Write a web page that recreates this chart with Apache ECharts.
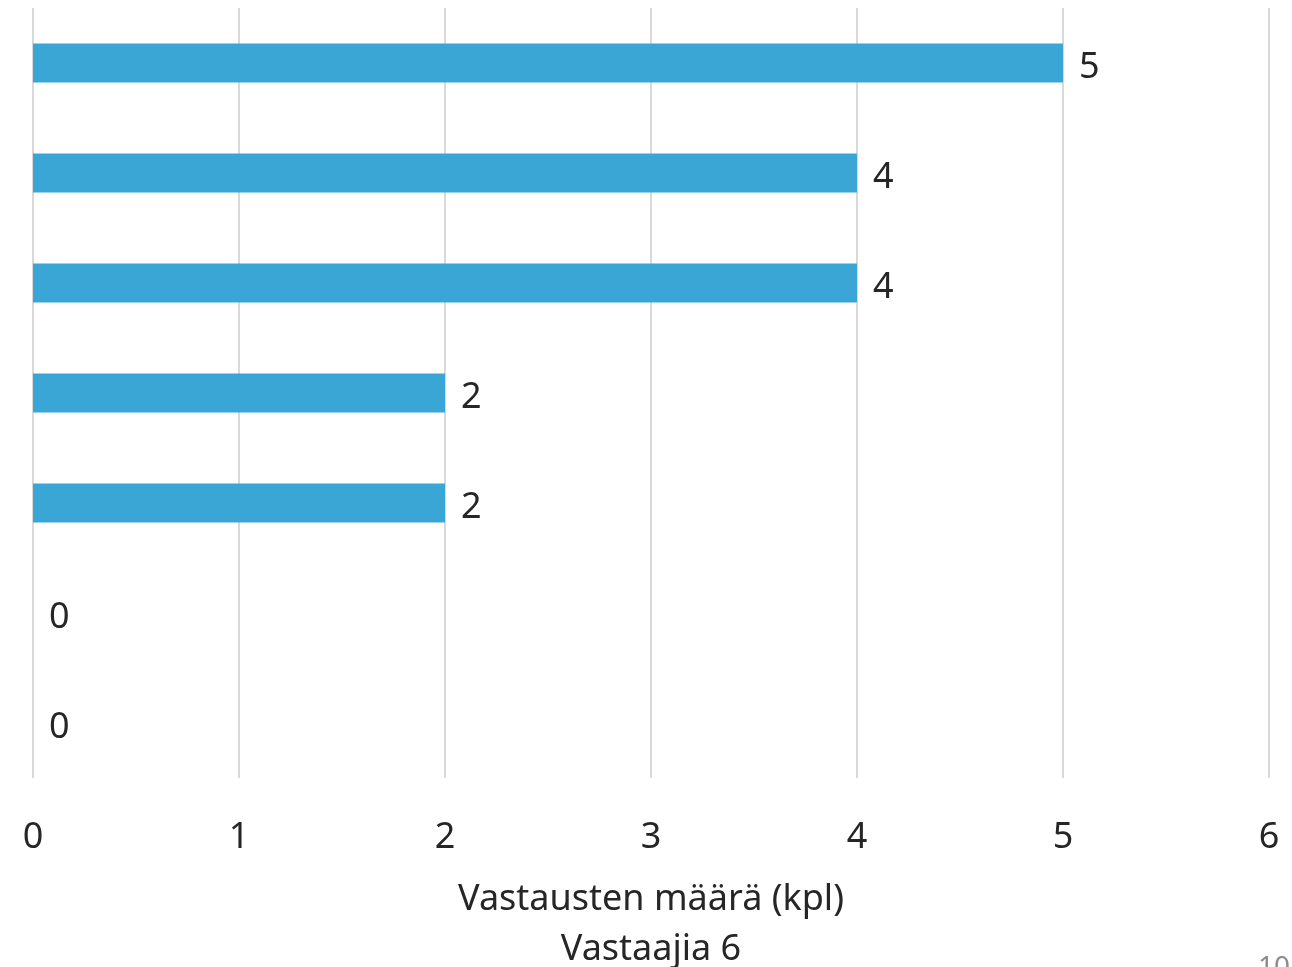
<!DOCTYPE html>
<html><head><meta charset="utf-8">
<script src="https://cdn.jsdelivr.net/npm/echarts@6/dist/echarts.min.js"></script>
<style>html,body{margin:0;padding:0;background:#fff}#c{width:1292px;height:967px}</style>
</head><body><div id="c"></div>
<script>
const categories = ["Vaihtoehto 1","Vaihtoehto 2","Vaihtoehto 3","Vaihtoehto 4","Vaihtoehto 5","Vaihtoehto 6","Vaihtoehto 7"];
const values = [5, 4, 4, 2, 2, 0, 0];
const xTicks = [0, 1, 2, 3, 4, 5, 6];
const axisTitle = "Vastausten määrä (kpl)\nVastaajia 6";
const pageNumber = "10";

const FONT = "Noto Sans";
const chart = echarts.init(document.getElementById('c'), null, {renderer:'canvas'});
chart.setOption({
  animation:false,
  backgroundColor:'#fff',
  grid:{left:33,right:23,top:8,bottom:189,containLabel:false,outerBoundsMode:'none'},
  xAxis:{type:'value',min:xTicks[0],max:xTicks[xTicks.length-1],interval:1,
    axisLine:{show:false},axisTick:{show:false},
    splitLine:{show:true,lineStyle:{color:'#d9d9d9',width:2}},
    axisLabel:{fontFamily:FONT,fontSize:36,color:'#262626',margin:42},
    name:axisTitle,nameLocation:'middle',nameGap:97,
    nameTextStyle:{fontFamily:FONT,fontSize:36,color:'#262626',lineHeight:50}},
  yAxis:{type:'category',data:categories,inverse:true,
    axisLine:{show:false},axisTick:{show:false},axisLabel:{show:false},splitLine:{show:false}},
  series:[{type:'bar',data:values,barWidth:39,itemStyle:{color:'#3aa6d6'},
    label:{show:true,position:'right',distance:16,offset:[0,5],fontFamily:FONT,fontSize:36,color:'#262626'}}],
  graphic:[{type:'text',right:2,top:954,style:{text:pageNumber,fontFamily:FONT,fontSize:28,fill:'#8c8c8c'}}]
});
</script></body></html>
